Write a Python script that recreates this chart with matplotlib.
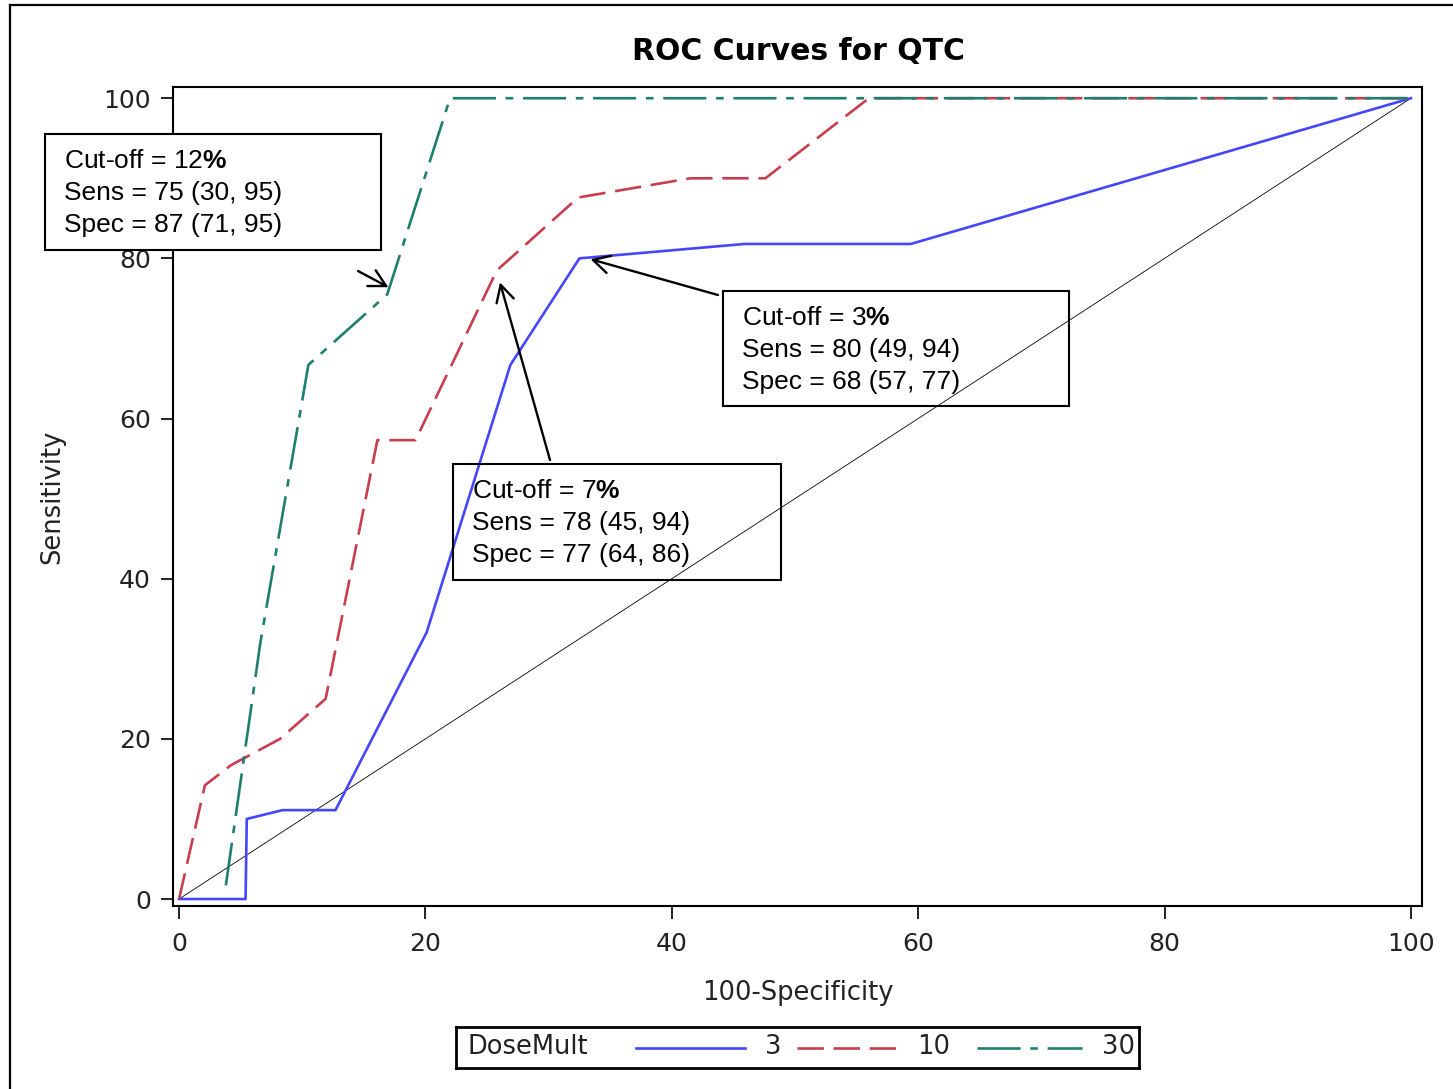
import matplotlib
matplotlib.use("Agg")
import matplotlib.pyplot as plt
from matplotlib.patches import Rectangle
from matplotlib.lines import Line2D

plt.rcParams['lines.scale_dashes'] = False
plt.rcParams['mathtext.fontset'] = 'custom'
plt.rcParams['mathtext.rm'] = 'Liberation Sans'
plt.rcParams['mathtext.bf'] = 'Liberation Sans:bold'

# ROC curves (100-Specificity, Sensitivity)
fpr_3 = [0, 5.4, 5.5, 8.4, 12.7, 20.1, 26.9, 32.5, 45.9, 59.4, 100]
sens_3 = [0, 0, 10.0, 11.1, 11.1, 33.3, 66.7, 80.0, 81.8, 81.8, 100]

fpr_10 = [0, 2.1, 4.2, 8.2, 11.9, 16.1, 19.2, 25.8, 32.4, 41.5, 47.6, 56.0, 100]
sens_10 = [0, 14.2, 16.7, 20.0, 25.0, 57.3, 57.3, 78.5, 87.6, 90.0, 90.0, 100, 100]

fpr_30 = [3.8, 6.6, 10.5, 16.9, 22.0, 100]
sens_30 = [1.7, 32.0, 66.7, 75.5, 100, 100]

ticks = [0, 20, 40, 60, 80, 100]
dose_labels = ['3', '10', '30']

# annotations: text lines, arrow target (data)
ann_12 = ["Cut-off = 12$\\mathbf{\\%}$", "Sens = 75 (30, 95)", "Spec = 87 (71, 95)"]
ann_3 = ["Cut-off = 3$\\mathbf{\\%}$", "Sens = 80 (49, 94)", "Spec = 68 (57, 77)"]
ann_7 = ["Cut-off = 7$\\mathbf{\\%}$", "Sens = 78 (45, 94)", "Spec = 77 (64, 86)"]
target_12 = (17.0, 76.4)
target_3 = (33.4, 79.9)
target_7 = (26.05, 77.0)

W, H = 1453, 1089
blue = '#4646ff'
red = '#c83e4e'
green = '#1f7f6e'
dash_red = (0, (19, 7))
dash_green = (0, (31, 7, 5.5, 7))


def fx(px):
    return px / W


def fy(py):
    return 1 - py / H


fig = plt.figure(figsize=(W / 100, H / 100), dpi=100)
ax = fig.add_axes([fx(173), fy(906), (1422 - 173) / W, (906 - 87) / H])

ax.plot([0, 100], [0, 100], color='black', lw=0.6, zorder=2)
ax.plot(fpr_3, sens_3, color=blue, lw=1.9, zorder=3)
ax.plot(fpr_10, sens_10, color=red, lw=1.9, linestyle=dash_red, zorder=4)
ax.plot(fpr_30, sens_30, color=green, lw=1.9, linestyle=dash_green, zorder=5)

ax.set_xlim(-0.49, 100.9)
ax.set_ylim(-0.87, 101.4)
ax.set_xticks(ticks)
ax.set_yticks(ticks)
ax.tick_params(direction='out', length=9, width=1.4, labelsize=18, pad=7,
               colors='#222222')
ax.tick_params(axis='x', pad=10)
for s in ax.spines.values():
    s.set_linewidth(1.5)

ax.set_xlabel('100-Specificity', fontsize=18.5, color='#222222')
ax.set_ylabel('Sensitivity', fontsize=18.5, color='#222222')
ax.xaxis.set_label_coords(0.5, -0.09)
ax.yaxis.set_label_coords(-0.086, 0.5)

fig.text(fx(798), fy(51), 'ROC Curves for QTC', fontsize=21.5,
         fontweight='bold', ha='center', va='center')

# annotation boxes
boxes = [
    (45, 134, 381, 250, ann_12, 'white'),
    (723, 291, 1069, 406, ann_3, 'none'),
    (453, 464, 781, 580, ann_7, 'none'),
]
for x0, y0, x1, y1, lines, fc in boxes:
    fig.add_artist(Rectangle((fx(x0), fy(y1)), (x1 - x0) / W, (y1 - y0) / H,
                             transform=fig.transFigure, facecolor=fc,
                             edgecolor='black', lw=1.5, zorder=10))
    for i, t in enumerate(lines):
        fig.text(fx(x0 + 19), fy(y0 + 27 + 32 * i), t, fontsize=19,
                 family='Liberation Sans', ha='left', va='center', zorder=11)

arrows = [(target_12, (358, 271)), (target_3, (718, 295)), (target_7, (550, 460))]
for xy, (tx, ty) in arrows:
    ax.annotate('', xy=xy, xycoords='data', xytext=(fx(tx), fy(ty)),
                textcoords='figure fraction', annotation_clip=False,
                arrowprops=dict(arrowstyle='->,head_length=0.6,head_width=0.32',
                                lw=1.7, color='black', mutation_scale=20,
                                shrinkA=0, shrinkB=0))

# legend
lax = fig.add_axes([fx(456), fy(1068), (1139 - 456) / W, (1068 - 1027) / H])
lax.set_xlim(456, 1139)
lax.set_ylim(1068, 1027)
lax.set_xticks([])
lax.set_yticks([])
for s in lax.spines.values():
    s.set_linewidth(2)
lax.text(467, 1047, 'DoseMult', fontsize=18.5, ha='left', va='center', color='#222222')
samples = [(636, 745, blue, '-'), (797, 897, red, dash_red), (977, 1082, green, dash_green)]
for (a, b, c, ls), lab in zip(samples, dose_labels):
    lax.plot([a, b], [1048, 1048], color=c, lw=1.9, linestyle=ls)
    lax.text(b + 20, 1047, lab, fontsize=18.5, ha='left', va='center', color='#222222')

# slide frame
fig.add_artist(Line2D([fx(10), fx(10)], [0, fy(5)], transform=fig.transFigure,
                      color='black', lw=1.6))
fig.add_artist(Line2D([fx(10), 1], [fy(5), fy(5)], transform=fig.transFigure,
                      color='black', lw=1.6))

fig.savefig('out.png', dpi=100)
